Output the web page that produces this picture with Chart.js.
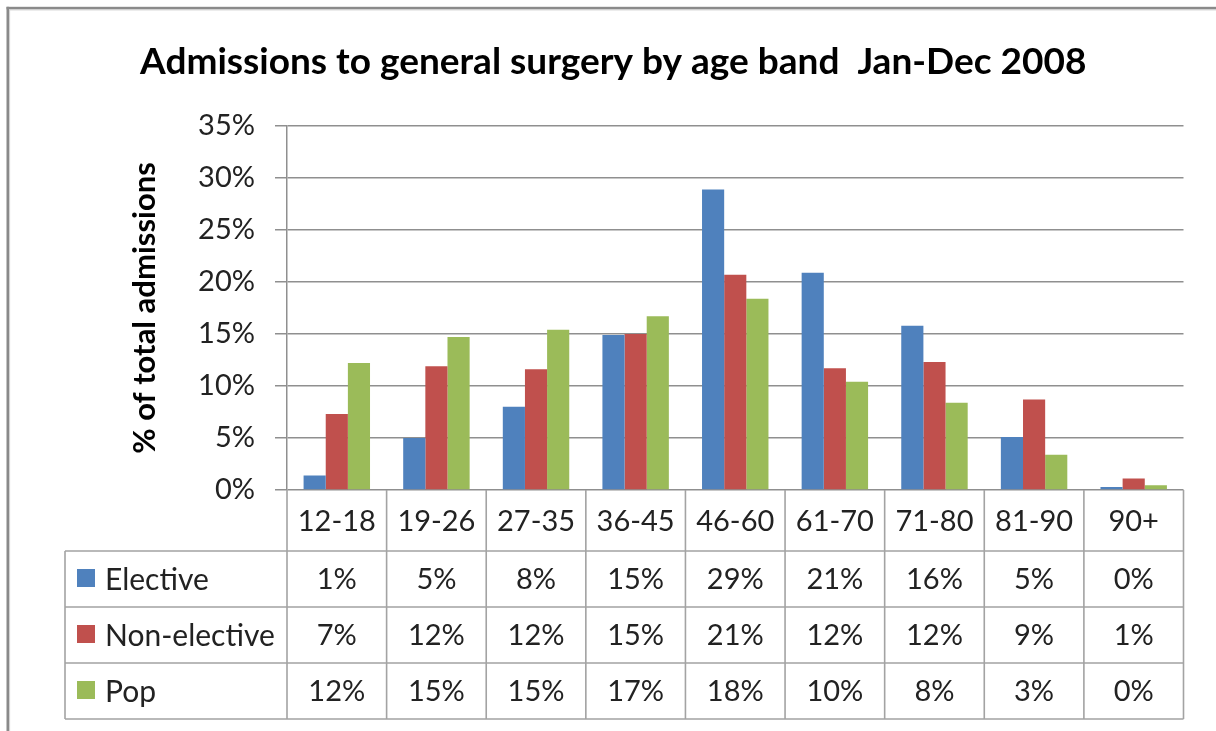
<!DOCTYPE html>
<html>
<head>
<meta charset="utf-8">
<script src="https://cdn.jsdelivr.net/npm/chart.js@4.4.1/dist/chart.umd.min.js"></script>
<style>
  html, body { margin: 0; padding: 0; background: #fff; overflow: hidden; }
  canvas { display: block; }
</style>
</head>
<body>
<canvas id="chart" width="1216" height="731"></canvas>
<script>
// Age bands (columns of the chart and of the data table)
const ageBands = ['12-18', '19-26', '27-35', '36-45', '46-60', '61-70', '71-80', '81-90', '90+'];

// Share of total admissions per age band, in percent
const elective    = [1.4, 5.0, 8.0, 14.9, 28.9, 20.9, 15.8, 5.1, 0.3];
const nonElective = [7.3, 11.9, 11.6, 15.0, 20.7, 11.7, 12.3, 8.7, 1.1];
const population  = [12.2, 14.7, 15.4, 16.7, 18.4, 10.4, 8.4, 3.4, 0.45];

const seriesNames  = ['Elective', 'Non-elective', 'Pop'];
const seriesColors = ['#4F81BD', '#C0504D', '#9BBB59'];

// Value axis ticks: 0% .. 35% every 5%
const yMin = 0, yMax = 35, yStep = 5;

const chartTitle = 'Admissions to general surgery by age band  Jan-Dec 2008';
const yAxisTitle = '% of total admissions';

const FONT = 'Lato, "Open Sans", "DejaVu Sans", sans-serif';
Chart.defaults.font.family = FONT;

// Thin grey frame on the left and top edges of the chart object
const framePlugin = {
  id: 'frame',
  beforeDraw(chart) {
    const ctx = chart.ctx;
    ctx.save();
    ctx.fillStyle = '#fff';
    ctx.fillRect(0, 0, chart.width, chart.height);
    ctx.fillStyle = '#8a8a8a';
    ctx.fillRect(6.5, 6.8, chart.width, 2.6);
    ctx.fillRect(6.5, 6.8, 2.6, chart.height);
    ctx.fillStyle = '#cfcfcf';
    ctx.fillRect(9.1, 9.4, chart.width, 1);
    ctx.fillRect(9.1, 9.4, 1, chart.height);
    ctx.restore();
  }
};

// Data table under the category axis: header row of age bands plus one row per series
const dataTablePlugin = {
  id: 'dataTable',
  afterDraw(chart) {
    const { ctx, chartArea: a, scales: { x } } = chart;
    const headerH = 61, rowH = 56, tableLeft = 65;
    const top = a.bottom;
    const rowTop = top + headerH;
    const datasets = chart.data.datasets;
    const bottom = rowTop + rowH * datasets.length;
    const n = ageBands.length;
    const colW = (a.right - a.left) / n;

    ctx.save();
    ctx.strokeStyle = '#a3a3a3';
    ctx.lineWidth = 1.6;
    ctx.beginPath();
    for (let i = 0; i <= n; i++) {
      const xx = a.left + i * colW;
      ctx.moveTo(xx, top);
      ctx.lineTo(xx, bottom);
    }
    ctx.moveTo(tableLeft, rowTop);
    ctx.lineTo(tableLeft, bottom);
    for (let r = 0; r <= datasets.length; r++) {
      const yy = rowTop + r * rowH;
      ctx.moveTo(tableLeft, yy);
      ctx.lineTo(a.right, yy);
    }
    ctx.stroke();

    ctx.font = '29px ' + FONT;
    ctx.fillStyle = '#222';
    ctx.textBaseline = 'middle';
    ctx.textAlign = 'center';
    ageBands.forEach((band, i) => {
      ctx.fillText(band, x.getPixelForValue(i), top + headerH / 2 + 1);
    });

    datasets.forEach((ds, r) => {
      const cy = rowTop + r * rowH + rowH / 2;
      ctx.fillStyle = ds.backgroundColor;
      ctx.fillRect(77, cy - 10, 18, 18);
      ctx.fillStyle = '#222';
      ctx.textAlign = 'left';
      ctx.font = '30px ' + FONT;
      ctx.fillText(ds.label, 105, cy + 1);
      ctx.font = '29px ' + FONT;
      ctx.textAlign = 'center';
      ds.data.forEach((v, i) => {
        ctx.fillText(Math.round(v) + '%', x.getPixelForValue(i), cy + 1);
      });
    });
    ctx.restore();
  }
};

const seriesData = [elective, nonElective, population];

new Chart(document.getElementById('chart'), {
  type: 'bar',
  data: {
    labels: ageBands,
    datasets: seriesNames.map((name, i) => ({
      label: name,
      data: seriesData[i],
      backgroundColor: seriesColors[i],
      borderWidth: 0,
      categoryPercentage: 0.667,
      barPercentage: 1.0
    }))
  },
  options: {
    responsive: false,
    animation: false,
    devicePixelRatio: 1,
    layout: { padding: { left: 43, right: 32.5, top: 0, bottom: 0 } },
    plugins: {
      legend: { display: false },
      tooltip: { enabled: false },
      title: {
        display: true,
        text: chartTitle,
        color: '#000',
        font: { family: FONT, size: 37, weight: 'bold' },
        padding: { top: 40.3, bottom: 41.3 }
      }
    },
    scales: {
      x: {
        ticks: { display: false },
        grid: { display: false },
        border: { display: false },
        afterFit(scale) { scale.height = 241; }
      },
      y: {
        min: yMin,
        max: yMax,
        ticks: {
          stepSize: yStep,
          padding: 20,
          color: '#222',
          font: { size: 29 },
          callback: v => v + '%'
        },
        grid: { color: '#8f8f8f', lineWidth: 1.5, tickLength: 12 },
        border: { color: '#8f8f8f', width: 1.5 },
        title: {
          display: true,
          text: yAxisTitle,
          color: '#000',
          font: { size: 31, weight: 'bold' },
          padding: { top: 83, bottom: 0 }
        },
        afterFit(scale) { scale.width = 244; }
      }
    }
  },
  plugins: [framePlugin, dataTablePlugin]
});
</script>
</body>
</html>
